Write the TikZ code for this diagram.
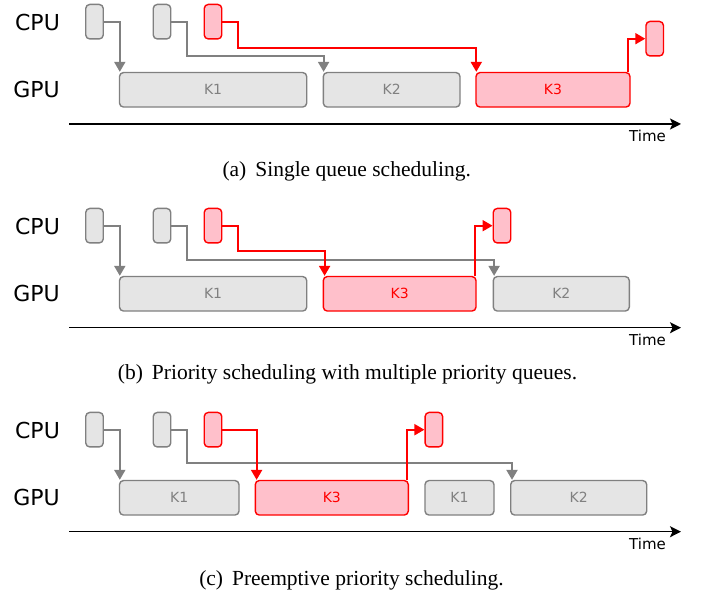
\documentclass[tikz,border=0pt]{standalone}
\usepackage{fontspec}
\setmainfont{Liberation Serif}
\newfontfamily\dvs{DejaVu Sans}
\usetikzlibrary{arrows.meta,calc}
\definecolor{boxgray}{RGB}{229,229,229}
\definecolor{linegray}{RGB}{128,128,128}
\definecolor{boxpink}{RGB}{255,192,203}
\tikzset{
  cpubox/.style={draw=linegray,fill=boxgray,line width=1.4pt,rounded corners=4pt,minimum width=17.5pt,minimum height=34.5pt,inner sep=0pt},
  cpured/.style={cpubox,draw=red,fill=boxpink},
  gpubox/.style={draw=linegray,fill=boxgray,line width=1.4pt,rounded corners=4pt,minimum height=34.5pt,inner sep=0pt,text=linegray,font=\dvs\fontsize{14}{16}\selectfont},
  gpured/.style={gpubox,draw=red,fill=boxpink,text=red},
  graylink/.style={draw=linegray,line width=2pt,-{Triangle[length=10pt,width=11pt]}},
  redlink/.style={draw=red,line width=2pt,-{Triangle[length=10pt,width=11pt]}},
  rowlabel/.style={inner sep=0pt,font=\dvs\fontsize{22}{24}\selectfont},
  timeaxis/.style={draw=black,line width=1.6pt,-{Stealth[length=11pt,width=11pt,inset=2.5pt]}},
  timelabel/.style={inner sep=0pt,font=\dvs\fontsize{15}{17}\selectfont},
  caption/.style={inner sep=0pt,anchor=base,font=\fontsize{21.5}{24}\selectfont}
}
\begin{document}
\begin{tikzpicture}[x=1pt,y=-1pt]
\useasboundingbox (0,0) rectangle (702,593);
% ---------- panel (a) ----------
\node[rowlabel] (a-cpu) at (37.5,22) {CPU};
\node[rowlabel] (a-gpu) at (36.5,89.5) {GPU};
\node[cpubox] (a-c1) at (94.5,21.7) {};
\node[cpubox] (a-c2) at (162,21.7) {};
\node[cpured] (a-c3) at (213,21.7) {};
\node[gpubox,minimum width=187.2pt] (a-k1) at (213.1,89.8) {K1};
\node[gpubox,minimum width=136.7pt] (a-k2) at (391.65,89.8) {K2};
\node[gpured,minimum width=154pt] (a-k3) at (553,89.8) {K3};
\node[cpured] (a-c4) at (654.7,38.7) {};
\coordinate (a-t0) at (69,124);
\coordinate (a-t1) at (681,124);
\draw[timeaxis] (a-t0) -- (a-t1);
\node[timelabel] (a-time) at (647.5,135.5) {Time};
\draw[graylink] (a-c1.east) -| ($(a-k1.north west)+(1,0)$);
\draw[graylink] (a-c2.east) -| (187,56) -| ($(a-k2.north west)+(1,0)$);
\draw[redlink] (a-c3.east) -| (238,47.7) -| ($(a-k3.north west)+(1,0)$);
\draw[redlink] ($(a-k3.north east)+(-2.7,0)$) |- (a-c4.west);
\node[caption] (a-cap) at (346.7,176.7) {(a)\, Single queue scheduling.};
% ---------- panel (b) ----------
\begin{scope}[shift={(0,204)}]
\node[rowlabel] (b-cpu) at (37.5,22) {CPU};
\node[rowlabel] (b-gpu) at (36.5,89.5) {GPU};
\node[cpubox] (b-c1) at (94.5,21.7) {};
\node[cpubox] (b-c2) at (162,21.7) {};
\node[cpured] (b-c3) at (213,21.7) {};
\node[gpubox,minimum width=187.2pt] (b-k1) at (213.1,89.8) {K1};
\node[gpured,minimum width=152.7pt] (b-k3) at (399.65,89.8) {K3};
\node[gpubox,minimum width=136pt] (b-k2) at (561.3,89.8) {K2};
\node[cpured] (b-c4) at (502,21.7) {};
\coordinate (b-t0) at (69,123.7);
\coordinate (b-t1) at (681,123.7);
\draw[timeaxis] (b-t0) -- (b-t1);
\node[timelabel] (b-time) at (647.5,135.5) {Time};
\draw[graylink] (b-c1.east) -| ($(b-k1.north west)+(1,0)$);
\draw[graylink] (b-c2.east) -| (187,56) -| ($(b-k2.north west)+(1.5,0)$);
\draw[redlink] (b-c3.east) -| (238,47) -| ($(b-k3.north west)+(2,0)$);
\draw[redlink] ($(b-k3.north east)+(-1.7,0)$) |- (b-c4.west);
\node[caption] (b-cap) at (347.5,176) {(b)\, Priority scheduling with multiple priority queues.};
\end{scope}
% ---------- panel (c) ----------
\begin{scope}[shift={(0,408)}]
\node[rowlabel] (c-cpu) at (37.5,22) {CPU};
\node[rowlabel] (c-gpu) at (36.5,89.5) {GPU};
\node[cpubox] (c-c1) at (94.5,21.7) {};
\node[cpubox] (c-c2) at (162,21.7) {};
\node[cpured] (c-c3) at (213,21.7) {};
\node[gpubox,minimum width=119.5pt] (c-k1) at (179.25,89.8) {K1};
\node[gpured,minimum width=153pt] (c-k3) at (331.8,89.8) {K3};
\node[gpubox,minimum width=69pt] (c-k1b) at (459.5,89.8) {K1};
\node[gpubox,minimum width=136pt] (c-k2) at (578.7,89.8) {K2};
\node[cpured] (c-c4) at (433.85,21.7) {};
\coordinate (c-t0) at (69,123.7);
\coordinate (c-t1) at (681,123.7);
\draw[timeaxis] (c-t0) -- (c-t1);
\node[timelabel] (c-time) at (647.5,135.5) {Time};
\draw[graylink] (c-c1.east) -| ($(c-k1.north west)+(1,0)$);
\draw[graylink] (c-c2.east) -| (187,55.3) -| ($(c-k2.north west)+(2,0)$);
\draw[redlink] (c-c3.east) -| ($(c-k3.north west)+(2,0)$);
\draw[redlink] ($(c-k3.north east)+(-1.6,0)$) |- (c-c4.west);
\node[caption] (c-cap) at (351.5,177) {(c)\, Preemptive priority scheduling.};
\end{scope}
\end{tikzpicture}
\end{document}
